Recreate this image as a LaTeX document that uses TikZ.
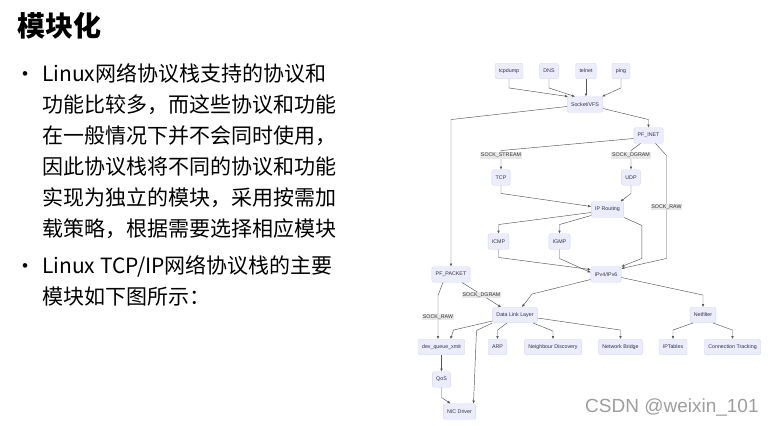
\documentclass[tikz,border=0pt]{standalone}
\usepackage{fontspec}
\setmainfont{Noto Sans CJK SC}
\newfontfamily\diafont{Liberation Sans}
\usetikzlibrary{arrows.meta}
\definecolor{modfill}{HTML}{ECECFF}
\definecolor{modline}{HTML}{D6D6F5}
\definecolor{modtext}{HTML}{333333}
\definecolor{edgecol}{HTML}{555555}
\tikzset{
  mod/.style={draw=modline, fill=modfill, rounded corners=2pt, line width=0.4pt, minimum height=15.5pt, minimum width=18pt, inner xsep=3.8pt, text=modtext, font=\diafont\fontsize{5.3}{6}\selectfont},
  lbl/.style={fill=black!9, inner sep=0.8pt, text=modtext, font=\diafont\fontsize{5.3}{6}\selectfont},
  flow/.style={-{Latex[length=3pt, width=2.6pt]}, draw=edgecol, line width=0.45pt},
  body/.style={anchor=north west, inner sep=0, align=left, font=\fontsize{21}{31}\selectfont},
  dot/.style={inner sep=0, font=\diafont\fontsize{17}{18}\selectfont},
}

\begin{document}
\begin{tikzpicture}[x=1pt, y=-1pt]
    \useasboundingbox[fill=white] (0,0) rectangle (772,426);
    \node[anchor=west, inner sep=0, font=\bfseries\fontsize{28}{32}\selectfont] (title) at (17,26) {模块化};
    \node[dot] (dotA) at (25,76) {•};
    \node[body] (textA) at (42,63) {Linux网络协议栈支持的协议和\\功能比较多，而这些协议和功能\\在一般情况下并不会同时使用，\\因此协议栈将不同的协议和功能\\实现为独立的模块，采用按需加\\载策略，根据需要选择相应模块};
    \node[dot] (dotB) at (25,268) {•};
    \node[body] (textB) at (42,255) {Linux TCP/IP网络协议栈的主要\\模块如下图所示：};

    \node[mod] (tcpdump) at (509,71) {tcpdump};
    \node[mod] (dns) at (549,71) {DNS};
    \node[mod] (telnet) at (586,71) {telnet};
    \node[mod] (ping) at (621,71) {ping};
    \node[mod] (socket) at (585,104.5) {Socket/VFS};
    \node[mod] (pfinet) at (648.5,135.5) {PF\_INET};
    \node[mod] (tcp) at (501,177.5) {TCP};
    \node[mod] (udp) at (631,177.5) {UDP};
    \node[mod] (iprouting) at (607.5,209.5) {IP Routing};
    \node[mod] (icmp) at (498.5,241.5) {ICMP};
    \node[mod] (igmp) at (559.5,241.5) {IGMP};
    \node[mod] (ipv4) at (606,274.5) {IPv4/IPv6};
    \node[mod] (pfpacket) at (451,274.5) {PF\_PACKET};
    \node[mod] (datalink) at (515,315) {Data Link Layer};
    \node[mod] (netfilter) at (703,315) {Netfilter};
    \node[mod] (devq) at (441.5,347) {dev\_queue\_xmit};
    \node[mod] (arp) at (497.5,347) {ARP};
    \node[mod] (nd) at (553,347) {Neighbour Discovery};
    \node[mod] (bridge) at (620.5,347) {Network Bridge};
    \node[mod] (iptables) at (673,347) {IPTables};
    \node[mod] (conntrack) at (732.5,347) {Connection Tracking};
    \node[mod] (qos) at (441.5,379.5) {QoS};
    \node[mod] (nic) at (459.5,411.5) {NIC Driver};

    \draw[flow] (tcpdump.south) -- ++(0,9) -- ([xshift=1pt]socket.north west);
    \draw[flow] (dns.south) -- ++(0,9) -- ([xshift=-10pt]socket.north);
    \draw[flow] (telnet.south) -- (telnet.south |- socket.north);
    \draw[flow] (ping.south) -- ++(0,9) -- ([xshift=-1pt]socket.north east);
    \draw[flow] ([yshift=-4pt]socket.east) -- ([yshift=8pt]pfinet.north) -- (pfinet.north);
    \draw[flow] ([yshift=-2pt]socket.west) -- ([yshift=147pt]pfpacket.north) -- (pfpacket.north);
    \draw[flow] ([yshift=-3pt]pfinet.west) -- ([yshift=19pt]tcp.north) -- node[lbl, pos=0.26] {SOCK\_STREAM} (tcp.north);
    \draw[flow] ([xshift=-8pt]pfinet.south) -- ([yshift=19pt]udp.north) -- node[lbl, pos=0.26] {SOCK\_DGRAM} (udp.north);
    \draw[flow] ([xshift=7pt]pfinet.south) -- ++(11,12) -- node[lbl] {SOCK\_RAW} ++(0,103) -- ([yshift=-2pt]ipv4.north east);
    \draw[flow] (tcp.south) -- ++(0,8) -- ([yshift=3pt]iprouting.west);
    \draw[flow] (udp.south) -- ++(0,8) -- ([xshift=13pt]iprouting.north);
    \draw[flow] ([yshift=-3pt]iprouting.west) -- ([yshift=9pt]icmp.north) -- (icmp.north);
    \draw[flow] ([yshift=-6pt]iprouting.west) -- ([yshift=9pt]igmp.north) -- (igmp.north);
    \draw[flow] (iprouting.south east) -- ++(18,8) -- ++(0,33) -- (ipv4.north east);
    \draw[flow] (icmp.south) -- ++(0,8) -- ([yshift=5pt]ipv4.west);
    \draw[flow] (igmp.south) -- ++(0,9) -- ([yshift=2pt]ipv4.west);
    \draw[flow] ([yshift=-5pt]ipv4.west) -- ([xshift=17pt, yshift=13pt]datalink.north) -- ([xshift=7pt]datalink.north);
    \draw[flow] ([yshift=-3pt]ipv4.east) -- ([yshift=12pt]netfilter.north) -- (netfilter.north);
    \draw[flow] ([xshift=11pt]pfpacket.south) -- node[lbl] {SOCK\_DGRAM} ([xshift=-14pt]datalink.north);
    \draw[flow] ([xshift=-8pt]pfpacket.south) -- ++(-5,13) -- node[lbl] {SOCK\_RAW} ([xshift=-3.5pt]devq.north);
    \draw[flow] ([yshift=-6pt]datalink.west) -- ([xshift=12pt, yshift=9pt]devq.north) -- ([xshift=9pt]devq.north);
    \draw[flow] (datalink.south west) -- ([xshift=17pt, yshift=73pt]nic.north) -- ([xshift=14pt]nic.north);
    \draw[flow] ([xshift=-8pt]datalink.south) -- ([yshift=9pt]arp.north) -- (arp.north);
    \draw[flow] ([xshift=18pt]datalink.south) -- ([yshift=8pt]nd.north) -- (nd.north);
    \draw[flow] ([yshift=-3pt]datalink.east) -- ([yshift=9pt]bridge.north) -- (bridge.north);
    \draw[flow] ([xshift=-10pt]netfilter.south) -- ([yshift=9pt]iptables.north) -- (iptables.north);
    \draw[flow] ([xshift=10pt]netfilter.south) -- ([yshift=9pt]conntrack.north) -- (conntrack.north);
    \draw[flow] (devq) -- (qos);
    \draw[flow] (qos.south) -- ++(0,10) -- ([xshift=-9pt]nic.north);

    \node[anchor=west, inner sep=0, text=black!38, font=\diafont\fontsize{19}{22}\selectfont] (mark) at (585,407) {CSDN @weixin\_101};
  \end{tikzpicture}
\end{document}
